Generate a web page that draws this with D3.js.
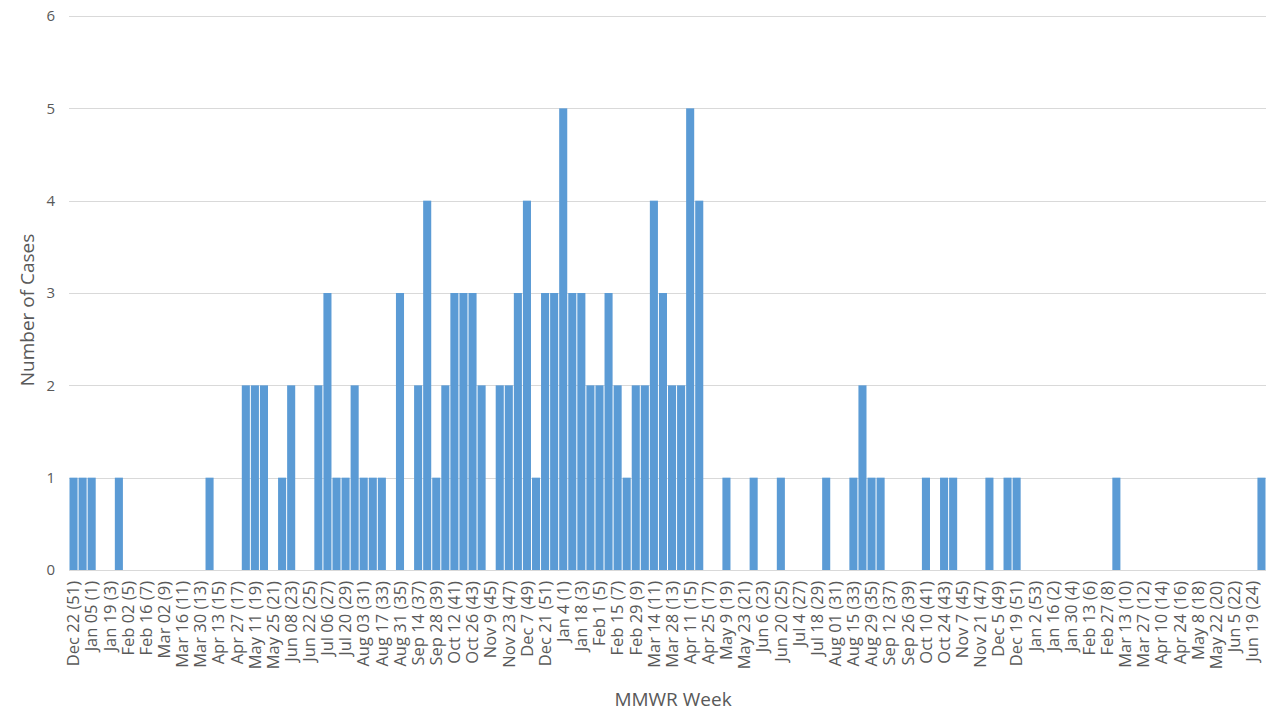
<!DOCTYPE html>
<html>
<head>
<meta charset="utf-8">
<script src="https://cdn.jsdelivr.net/npm/d3@7"></script>
<style>
  body { margin: 0; background: #fff; }
  text { font-family: "Open Sans", "Noto Sans", sans-serif; fill: #595959; }
</style>
</head>
<body>
<svg id="chart" width="1280" height="720"></svg>
<script>
// every other MMWR week gets a label (Excel skips alternate ones)
const tickLabels = [
    "Dec 22 (51)", "Jan 05 (1)", "Jan 19 (3)", "Feb 02 (5)", "Feb 16 (7)", "Mar 02 (9)",
    "Mar 16 (11)", "Mar 30 (13)", "Apr 13 (15)", "Apr 27 (17)", "May 11 (19)", "May 25 (21)",
    "Jun 08 (23)", "Jun 22 (25)", "Jul 06 (27)", "Jul 20 (29)", "Aug 03 (31)", "Aug 17 (33)",
    "Aug 31 (35)", "Sep 14 (37)", "Sep 28 (39)", "Oct 12 (41)", "Oct 26 (43)", "Nov 9 (45)",
    "Nov 23 (47)", "Dec 7 (49)", "Dec 21 (51)", "Jan 4 (1)", "Jan 18 (3)", "Feb 1 (5)",
    "Feb 15 (7)", "Feb 29 (9)", "Mar 14 (11)", "Mar 28 (13)", "Apr 11 (15)", "Apr 25 (17)",
    "May 9 (19)", "May 23 (21)", "Jun 6 (23)", "Jun 20 (25)", "Jul 4 (27)", "Jul 18 (29)",
    "Aug 01 (31)", "Aug 15 (33)", "Aug 29 (35)", "Sep 12 (37)", "Sep 26 (39)", "Oct 10 (41)",
    "Oct 24 (43)", "Nov 7 (45)", "Nov 21 (47)", "Dec 5 (49)", "Dec 19 (51)", "Jan 2 (53)",
    "Jan 16 (2)", "Jan 30 (4)", "Feb 13 (6)", "Feb 27 (8)", "Mar 13 (10)", "Mar 27 (12)",
    "Apr 10 (14)", "Apr 24 (16)", "May 8 (18)", "May 22 (20)", "Jun 5 (22)", "Jun 19 (24)"
];

// cases per week, 132 weeks from Dec 22 2018 to Jun 26 2021
const cases = [
    1, 1, 1, 0, 0, 1, 0, 0, 0, 0,
    0, 0, 0, 0, 0, 1, 0, 0, 0, 2,
    2, 2, 0, 1, 2, 0, 0, 2, 3, 1,
    1, 2, 1, 1, 1, 0, 3, 0, 2, 4,
    1, 2, 3, 3, 3, 2, 0, 2, 2, 3,
    4, 1, 3, 3, 5, 3, 3, 2, 2, 3,
    2, 1, 2, 2, 4, 3, 2, 2, 5, 4,
    0, 0, 1, 0, 0, 1, 0, 0, 1, 0,
    0, 0, 0, 1, 0, 0, 1, 2, 1, 1,
    0, 0, 0, 0, 1, 0, 1, 1, 0, 0,
    0, 1, 0, 1, 1, 0, 0, 0, 0, 0,
    0, 0, 0, 0, 0, 1, 0, 0, 0, 0,
    0, 0, 0, 0, 0, 0, 0, 0, 0, 0,
    0, 1
];

const yTicks = [0, 1, 2, 3, 4, 5, 6];

const margin = {top: 16, right: 14, bottom: 150, left: 69};
const width = 1280, height = 720;

const svg = d3.select("#chart");

const weeks = d3.range(cases.length);

const x = d3.scaleBand()
    .domain(weeks)
    .range([margin.left, width - margin.right])
    .paddingInner(0.11)
    .paddingOuter(0.055);

const y = d3.scaleLinear()
    .domain([0, 6])
    .range([height - margin.bottom, margin.top]);

//gridlines
svg.append("g")
    .attr("class", "grid")
    .selectAll("line")
    .data(yTicks)
    .join("line")
    .attr("x1", margin.left)
    .attr("x2", width - margin.right)
    .attr("y1", d => Math.round(y(d)) + 0.5)
    .attr("y2", d => Math.round(y(d)) + 0.5)
    .attr("stroke", "#d9d9d9")
    .attr("stroke-width", 1);

//bars
svg.append("g")
    .selectAll("rect")
    .data(weeks.filter(i => cases[i] > 0))
    .join("rect")
    .attr("x", i => x(i))
    .attr("y", i => y(cases[i]))
    .attr("width", x.bandwidth())
    .attr("height", i => y(0) - y(cases[i]))
    .attr("fill", "#5b9bd5");

//y axis labels
const yAxis = d3.axisLeft(y).tickValues(yTicks).tickFormat(d3.format("d")).tickSize(0).tickPadding(14);
svg.append("g")
    .attr("transform", `translate(${margin.left},0)`)
    .call(yAxis)
    .call(g => g.select(".domain").remove())
    .selectAll("text")
    .style("font-size", "15px")
    .style("font-family", "'Open Sans', sans-serif")
    .style("fill", "#595959");

//x axis, label on every second week
const xAxis = d3.axisBottom(x)
    .tickValues(weeks.filter(i => i % 2 === 0))
    .tickFormat(i => tickLabels[i / 2])
    .tickSize(0);

svg.append("g")
    .attr("transform", `translate(0,${y(0)})`)
    .call(xAxis)
    .call(g => g.select(".domain").remove())
    .selectAll("text")
    .style("font-size", "16.5px")
    .style("font-family", "'Open Sans', sans-serif")
    .style("fill", "#595959")
    .attr("text-anchor", "end")
    .attr("dy", "0.35em")
    .attr("transform", "translate(0,11) rotate(-90)")
    .attr("x", 0)
    .attr("y", 0);

//axis titles
svg.append("text")
    .attr("x", 673)
    .attr("y", 706)
    .attr("text-anchor", "middle")
    .style("font-size", "19px")
    .text("MMWR Week");

svg.append("text")
    .attr("transform", `translate(34,${(y(0) + y(6)) / 2 + 17}) rotate(-90)`)
    .attr("text-anchor", "middle")
    .style("font-size", "19px")
    .text("Number of Cases");
</script>
</body>
</html>
